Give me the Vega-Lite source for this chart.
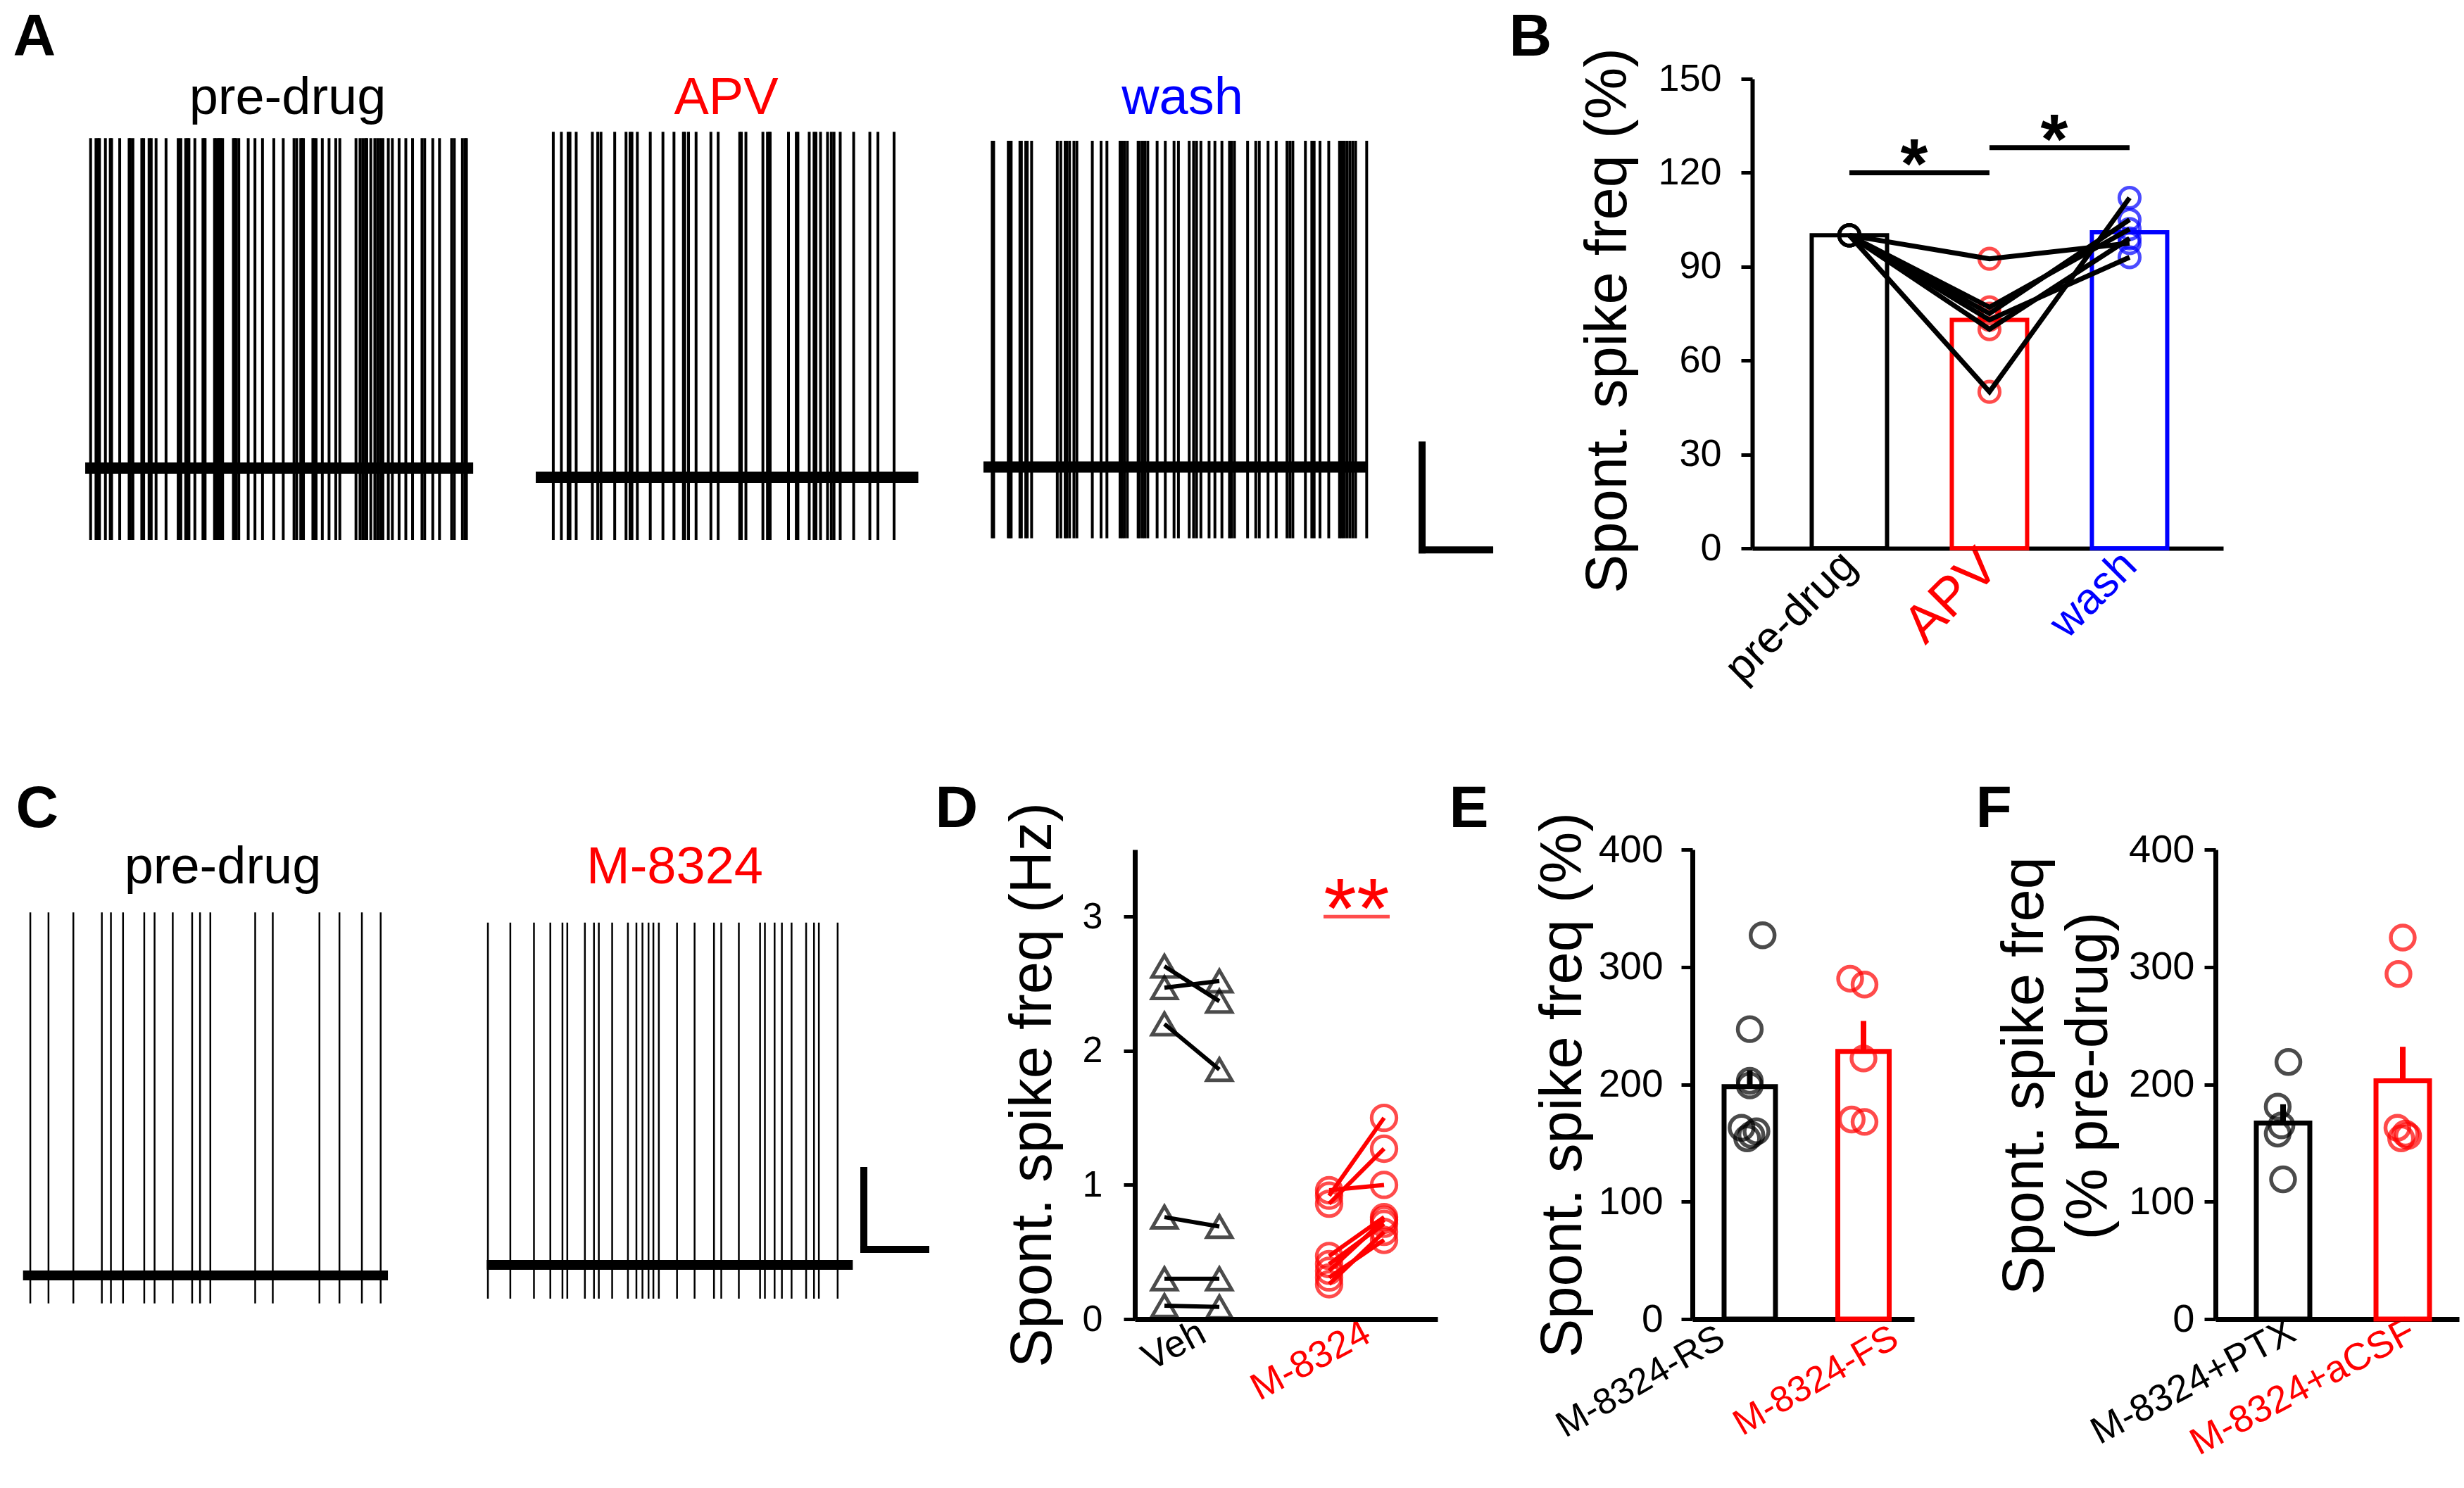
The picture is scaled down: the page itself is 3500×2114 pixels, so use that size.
{
"$schema": "https://vega.github.io/schema/vega-lite/v6.json",
"background": "white",
"padding": {"left": 0, "top": 11, "right": 10, "bottom": 10},
"spacing": 126,
"bounds": "full",
"resolve": {"scale": {"stroke": "independent", "shape": "independent"}},
"config": {"view": {"stroke": null}, "font": "Liberation Sans",
  "axis": {"grid": false, "domainColor": "#000000", "tickColor": "#000000", "labelColor": "#000000", "titleColor": "#000000", "labelFont": "Liberation Sans", "titleFont": "Liberation Sans", "titleFontWeight": "normal", "labelLimit": 0, "titleLimit": 0}},
"datasets": {
 "sweeps": [
  {"tr":"A1","start":55,"end":1495,"base":0,"peak":62.9,"trough":-13.7},
  {"tr":"A2","start":55,"end":1475,"base":-1.75,"peak":64.1,"trough":-13.7},
  {"tr":"A3","start":65,"end":1380,"base":0.2,"peak":62.4,"trough":-13.4},
  {"tr":"C1","start":0,"end":602,"base":0,"peak":92.1,"trough":-7.1},
  {"tr":"C2","start":0,"end":604,"base":2.7,"peak":89.5,"trough":-5.9}
 ],
 "scalebars": [
  {"tr":"A","t":0,"t2":0,"v":-15.6,"v2":4.4},
  {"tr":"A","t":0,"t2":231.6,"v":-15.6,"v2":-15.6},
  {"tr":"C2","t":622.2,"t2":622.2,"v":6.6,"v2":26.6},
  {"tr":"C2","t":622.2,"t2":724.4,"v":6.6,"v2":6.6}
 ],
 "spikes": [
  {"tr":"A1","t":75},{"tr":"A1","t":95},{"tr":"A1","t":103},{"tr":"A1","t":108},{"tr":"A1","t":130},{"tr":"A1","t":148},{"tr":"A1","t":153},{"tr":"A1","t":183},{"tr":"A1","t":218},{"tr":"A1","t":222},{"tr":"A1","t":232},{"tr":"A1","t":265},{"tr":"A1","t":272},{"tr":"A1","t":292},{"tr":"A1","t":300},{"tr":"A1","t":318},{"tr":"A1","t":355},{"tr":"A1","t":400},{"tr":"A1","t":410},{"tr":"A1","t":428},{"tr":"A1","t":435},{"tr":"A1","t":440},{"tr":"A1","t":462},{"tr":"A1","t":492},{"tr":"A1","t":497},{"tr":"A1","t":500},{"tr":"A1","t":535},{"tr":"A1","t":540},{"tr":"A1","t":548},{"tr":"A1","t":553},{"tr":"A1","t":558},{"tr":"A1","t":565},{"tr":"A1","t":605},{"tr":"A1","t":610},{"tr":"A1","t":615},{"tr":"A1","t":625},{"tr":"A1","t":660},{"tr":"A1","t":685},{"tr":"A1","t":713},{"tr":"A1","t":755},{"tr":"A1","t":790},{"tr":"A1","t":830},{"tr":"A1","t":840},{"tr":"A1","t":855},{"tr":"A1","t":860},{"tr":"A1","t":865},{"tr":"A1","t":900},{"tr":"A1","t":905},{"tr":"A1","t":912},{"tr":"A1","t":935},{"tr":"A1","t":960},{"tr":"A1","t":985},{"tr":"A1","t":1000},{"tr":"A1","t":1060},{"tr":"A1","t":1075},{"tr":"A1","t":1085},{"tr":"A1","t":1095},{"tr":"A1","t":1100},{"tr":"A1","t":1115},{"tr":"A1","t":1130},{"tr":"A1","t":1140},{"tr":"A1","t":1150},{"tr":"A1","t":1160},{"tr":"A1","t":1180},{"tr":"A1","t":1195},{"tr":"A1","t":1220},{"tr":"A1","t":1245},{"tr":"A1","t":1270},{"tr":"A1","t":1305},{"tr":"A1","t":1315},{"tr":"A1","t":1345},{"tr":"A1","t":1370},{"tr":"A1","t":1415},{"tr":"A1","t":1425},{"tr":"A1","t":1455},{"tr":"A1","t":1465},{"tr":"A1","t":1470},
  {"tr":"A2","t":120},{"tr":"A2","t":150},{"tr":"A2","t":175},{"tr":"A2","t":182},{"tr":"A2","t":205},{"tr":"A2","t":265},{"tr":"A2","t":285},{"tr":"A2","t":297},{"tr":"A2","t":348},{"tr":"A2","t":390},{"tr":"A2","t":405},{"tr":"A2","t":412},{"tr":"A2","t":432},{"tr":"A2","t":480},{"tr":"A2","t":527},{"tr":"A2","t":568},{"tr":"A2","t":603},{"tr":"A2","t":608},{"tr":"A2","t":622},{"tr":"A2","t":650},{"tr":"A2","t":705},{"tr":"A2","t":732},{"tr":"A2","t":812},{"tr":"A2","t":818},{"tr":"A2","t":835},{"tr":"A2","t":898},{"tr":"A2","t":915},{"tr":"A2","t":922},{"tr":"A2","t":925},{"tr":"A2","t":993},{"tr":"A2","t":1022},{"tr":"A2","t":1028},{"tr":"A2","t":1070},{"tr":"A2","t":1088},{"tr":"A2","t":1095},{"tr":"A2","t":1112},{"tr":"A2","t":1138},{"tr":"A2","t":1152},{"tr":"A2","t":1162},{"tr":"A2","t":1185},{"tr":"A2","t":1235},{"tr":"A2","t":1295},{"tr":"A2","t":1325},{"tr":"A2","t":1385},
  {"tr":"A3","t":95},{"tr":"A3","t":100},{"tr":"A3","t":150},{"tr":"A3","t":155},{"tr":"A3","t":160},{"tr":"A3","t":190},{"tr":"A3","t":195},{"tr":"A3","t":210},{"tr":"A3","t":215},{"tr":"A3","t":230},{"tr":"A3","t":318},{"tr":"A3","t":330},{"tr":"A3","t":345},{"tr":"A3","t":350},{"tr":"A3","t":360},{"tr":"A3","t":375},{"tr":"A3","t":385},{"tr":"A3","t":438},{"tr":"A3","t":468},{"tr":"A3","t":488},{"tr":"A3","t":533},{"tr":"A3","t":540},{"tr":"A3","t":548},{"tr":"A3","t":558},{"tr":"A3","t":595},{"tr":"A3","t":600},{"tr":"A3","t":610},{"tr":"A3","t":618},{"tr":"A3","t":628},{"tr":"A3","t":660},{"tr":"A3","t":688},{"tr":"A3","t":718},{"tr":"A3","t":733},{"tr":"A3","t":770},{"tr":"A3","t":785},{"tr":"A3","t":795},{"tr":"A3","t":810},{"tr":"A3","t":838},{"tr":"A3","t":858},{"tr":"A3","t":882},{"tr":"A3","t":908},{"tr":"A3","t":915},{"tr":"A3","t":925},{"tr":"A3","t":970},{"tr":"A3","t":998},{"tr":"A3","t":1010},{"tr":"A3","t":1040},{"tr":"A3","t":1068},{"tr":"A3","t":1105},{"tr":"A3","t":1115},{"tr":"A3","t":1125},{"tr":"A3","t":1168},{"tr":"A3","t":1190},{"tr":"A3","t":1198},{"tr":"A3","t":1218},{"tr":"A3","t":1248},{"tr":"A3","t":1285},{"tr":"A3","t":1292},{"tr":"A3","t":1300},{"tr":"A3","t":1310},{"tr":"A3","t":1320},{"tr":"A3","t":1330},{"tr":"A3","t":1340},{"tr":"A3","t":1378},
  {"tr":"C1","t":12},{"tr":"C1","t":42},{"tr":"C1","t":83},{"tr":"C1","t":130},{"tr":"C1","t":145},{"tr":"C1","t":165},{"tr":"C1","t":200},{"tr":"C1","t":217},{"tr":"C1","t":247},{"tr":"C1","t":279},{"tr":"C1","t":292},{"tr":"C1","t":309},{"tr":"C1","t":383},{"tr":"C1","t":412},{"tr":"C1","t":489},{"tr":"C1","t":522},{"tr":"C1","t":559},{"tr":"C1","t":590},
  {"tr":"C2","t":2},{"tr":"C2","t":39},{"tr":"C2","t":78},{"tr":"C2","t":105},{"tr":"C2","t":125},{"tr":"C2","t":133},{"tr":"C2","t":162},{"tr":"C2","t":177},{"tr":"C2","t":185},{"tr":"C2","t":207},{"tr":"C2","t":233},{"tr":"C2","t":247},{"tr":"C2","t":257},{"tr":"C2","t":267},{"tr":"C2","t":275},{"tr":"C2","t":284},{"tr":"C2","t":314},{"tr":"C2","t":343},{"tr":"C2","t":375},{"tr":"C2","t":387},{"tr":"C2","t":416},{"tr":"C2","t":451},{"tr":"C2","t":459},{"tr":"C2","t":475},{"tr":"C2","t":487},{"tr":"C2","t":503},{"tr":"C2","t":527},{"tr":"C2","t":540},{"tr":"C2","t":548},{"tr":"C2","t":579}
 ],
 "bbars": [{"cond":"pre-drug","mean":100},{"cond":"APV","mean":73},{"cond":"wash","mean":101}],
 "bcells": [
  {"cell":"c1","cond":"pre-drug","k":1,"val":100},{"cell":"c1","cond":"APV","k":2,"val":92.5},{"cell":"c1","cond":"wash","k":3,"val":97.5},
  {"cell":"c2","cond":"pre-drug","k":1,"val":100},{"cell":"c2","cond":"APV","k":2,"val":77},{"cell":"c2","cond":"wash","k":3,"val":102},
  {"cell":"c3","cond":"pre-drug","k":1,"val":100},{"cell":"c3","cond":"APV","k":2,"val":75},{"cell":"c3","cond":"wash","k":3,"val":105},
  {"cell":"c4","cond":"pre-drug","k":1,"val":100},{"cell":"c4","cond":"APV","k":2,"val":73},{"cell":"c4","cond":"wash","k":3,"val":93},
  {"cell":"c5","cond":"pre-drug","k":1,"val":100},{"cell":"c5","cond":"APV","k":2,"val":70},{"cell":"c5","cond":"wash","k":3,"val":99},
  {"cell":"c6","cond":"pre-drug","k":1,"val":100},{"cell":"c6","cond":"APV","k":2,"val":50},{"cell":"c6","cond":"wash","k":3,"val":112}
 ],
 "bsig": [{"from":"pre-drug","to":"APV","y":120,"label":"*"},{"from":"APV","to":"wash","y":128,"label":"*"}],
 "dcells": [
  {"cell":"v1","grp":"Veh","phase":"pre","k":1,"val":2.63},{"cell":"v1","grp":"Veh","phase":"post","k":2,"val":2.37},
  {"cell":"v2","grp":"Veh","phase":"pre","k":1,"val":2.47},{"cell":"v2","grp":"Veh","phase":"post","k":2,"val":2.52},
  {"cell":"v3","grp":"Veh","phase":"pre","k":1,"val":2.2},{"cell":"v3","grp":"Veh","phase":"post","k":2,"val":1.86},
  {"cell":"v4","grp":"Veh","phase":"pre","k":1,"val":0.76},{"cell":"v4","grp":"Veh","phase":"post","k":2,"val":0.69},
  {"cell":"v5","grp":"Veh","phase":"pre","k":1,"val":0.3},{"cell":"v5","grp":"Veh","phase":"post","k":2,"val":0.3},
  {"cell":"v6","grp":"Veh","phase":"pre","k":1,"val":0.1},{"cell":"v6","grp":"Veh","phase":"post","k":2,"val":0.09},
  {"cell":"m1","grp":"M-8324","phase":"pre","k":1,"val":0.92},{"cell":"m1","grp":"M-8324","phase":"post","k":2,"val":1.5},
  {"cell":"m2","grp":"M-8324","phase":"pre","k":1,"val":0.86},{"cell":"m2","grp":"M-8324","phase":"post","k":2,"val":1.27},
  {"cell":"m3","grp":"M-8324","phase":"pre","k":1,"val":0.96},{"cell":"m3","grp":"M-8324","phase":"post","k":2,"val":1.0},
  {"cell":"m4","grp":"M-8324","phase":"pre","k":1,"val":0.47},{"cell":"m4","grp":"M-8324","phase":"post","k":2,"val":0.76},
  {"cell":"m5","grp":"M-8324","phase":"pre","k":1,"val":0.41},{"cell":"m5","grp":"M-8324","phase":"post","k":2,"val":0.71},
  {"cell":"m6","grp":"M-8324","phase":"pre","k":1,"val":0.36},{"cell":"m6","grp":"M-8324","phase":"post","k":2,"val":0.74},
  {"cell":"m7","grp":"M-8324","phase":"pre","k":1,"val":0.31},{"cell":"m7","grp":"M-8324","phase":"post","k":2,"val":0.59},
  {"cell":"m8","grp":"M-8324","phase":"pre","k":1,"val":0.26},{"cell":"m8","grp":"M-8324","phase":"post","k":2,"val":0.65}
 ],
 "dsig": [{"grp":"M-8324","y":3.0,"label":"**"}],
 "esum": [{"g":"M-8324-RS","mean":198,"hi":212},{"g":"M-8324-FS","mean":228,"hi":254}],
 "ecells": [
  {"g":"M-8324-RS","val":327,"j":0.25},{"g":"M-8324-RS","val":247,"j":0},{"g":"M-8324-RS","val":203,"j":0},{"g":"M-8324-RS","val":199,"j":0},{"g":"M-8324-RS","val":163,"j":-0.16},{"g":"M-8324-RS","val":160,"j":0.13},{"g":"M-8324-RS","val":157,"j":0.03},{"g":"M-8324-RS","val":154,"j":-0.05},
  {"g":"M-8324-FS","val":290,"j":-0.26},{"g":"M-8324-FS","val":285,"j":0.02},{"g":"M-8324-FS","val":222,"j":0},{"g":"M-8324-FS","val":170,"j":-0.23},{"g":"M-8324-FS","val":168,"j":0.02}
 ],
 "fsum": [{"g":"M-8324+PTX","mean":167,"hi":183},{"g":"M-8324+aCSF","mean":203,"hi":232}],
 "fcells": [
  {"g":"M-8324+PTX","val":219,"j":0.1},{"g":"M-8324+PTX","val":181,"j":-0.1},{"g":"M-8324+PTX","val":165,"j":-0.03},{"g":"M-8324+PTX","val":158,"j":-0.1},{"g":"M-8324+PTX","val":119,"j":0},
  {"g":"M-8324+aCSF","val":325,"j":0},{"g":"M-8324+aCSF","val":294,"j":-0.08},{"g":"M-8324+aCSF","val":163,"j":-0.1},{"g":"M-8324+aCSF","val":158,"j":0.05},{"g":"M-8324+aCSF","val":156,"j":0.1},{"g":"M-8324+aCSF","val":154,"j":-0.03}
 ]
},
"vconcat": [
{"hconcat": [
 {"width": 715, "height": 667, "layer": [
  {"data": {"name": "sweeps"}, "transform": [{"filter": "datum.tr === 'A1'"}],
   "mark": {"type": "rule", "strokeWidth": 16, "color": "#000000"},
   "encoding": {
    "x": {"field": "start", "type": "quantitative", "scale": {"domain": [-261.3, 1607.0], "nice": false, "zero": false},
      "axis": {"orient": "top", "domain": false, "ticks": false, "labels": false, "title": "pre-drug", "titleX": 408, "titleY": 49, "titleAngle": 0, "titleAlign": "center", "titleBaseline": "alphabetic", "titleFontSize": 74}},
    "x2": {"field": "end"},
    "y": {"field": "base", "type": "quantitative", "scale": {"domain": [-15.3, 74.2], "nice": false, "zero": false},
      "axis": {"domain": false, "ticks": false, "labels": false, "title": "A", "titleX": 18, "titleY": -34, "titleAngle": 0, "titleAlign": "left", "titleBaseline": "alphabetic", "titleFontSize": 84, "titleFontWeight": "bold"}}}},
  {"data": {"name": "spikes"}, "transform": [{"filter": "datum.tr === 'A1'"}, {"lookup": "tr", "from": {"data": {"name": "sweeps"}, "key": "tr", "fields": ["peak", "trough"]}}],
   "mark": {"type": "rule", "strokeWidth": 4, "color": "#000000"},
   "encoding": {"x": {"field": "t", "type": "quantitative"}, "y": {"field": "trough", "type": "quantitative"}, "y2": {"field": "peak"}}}
 ]},
 {"width": 635, "height": 667, "layer": [
  {"data": {"name": "sweeps"}, "transform": [{"filter": "datum.tr === 'A2'"}],
   "mark": {"type": "rule", "strokeWidth": 16, "color": "#000000"},
   "encoding": {
    "x": {"field": "start", "type": "quantitative", "scale": {"domain": [-65.3, 1594.0], "nice": false, "zero": false},
      "axis": {"orient": "top", "domain": false, "ticks": false, "labels": false, "title": "APV", "titleColor": "#ff0000", "titleX": 316, "titleY": 49, "titleAngle": 0, "titleAlign": "center", "titleBaseline": "alphabetic", "titleFontSize": 74}},
    "x2": {"field": "end"},
    "y": {"field": "base", "type": "quantitative", "scale": {"domain": [-15.3, 74.2], "nice": false, "zero": false}, "axis": null}}},
  {"data": {"name": "spikes"}, "transform": [{"filter": "datum.tr === 'A2'"}, {"lookup": "tr", "from": {"data": {"name": "sweeps"}, "key": "tr", "fields": ["peak", "trough"]}}],
   "mark": {"type": "rule", "strokeWidth": 4, "color": "#000000"},
   "encoding": {"x": {"field": "t", "type": "quantitative"}, "y": {"field": "trough", "type": "quantitative", "axis": null}, "y2": {"field": "peak"}}}
 ]},
 {"width": 640, "height": 667, "layer": [
  {"data": {"name": "sweeps"}, "transform": [{"filter": "datum.tr === 'A3'"}],
   "mark": {"type": "rule", "strokeWidth": 16, "color": "#000000"},
   "encoding": {
    "x": {"field": "start", "type": "quantitative", "scale": {"domain": [-48.2, 1495.4], "nice": false, "zero": false},
      "axis": {"orient": "top", "domain": false, "ticks": false, "labels": false, "title": "wash", "titleColor": "#0000ff", "titleX": 329, "titleY": 49, "titleAngle": 0, "titleAlign": "center", "titleBaseline": "alphabetic", "titleFontSize": 74}},
    "x2": {"field": "end"},
    "y": {"field": "base", "type": "quantitative", "scale": {"domain": [-15.3, 74.2], "nice": false, "zero": false}, "axis": null}}},
  {"data": {"name": "spikes"}, "transform": [{"filter": "datum.tr === 'A3'"}, {"lookup": "tr", "from": {"data": {"name": "sweeps"}, "key": "tr", "fields": ["peak", "trough"]}}],
   "mark": {"type": "rule", "strokeWidth": 4, "color": "#000000"},
   "encoding": {"x": {"field": "t", "type": "quantitative"}, "y": {"field": "trough", "type": "quantitative", "axis": null}, "y2": {"field": "peak"}}}
 ]},
 {"width": 499, "height": 667,
  "data": {"name": "scalebars"}, "transform": [{"filter": "datum.tr === 'A'"}],
  "mark": {"type": "rule", "strokeWidth": 10, "strokeCap": "square", "color": "#000000"},
  "encoding": {
   "x": {"field": "t", "type": "quantitative", "scale": {"domain": [-72.4, 1131.2], "nice": false, "zero": false}, "axis": null},
   "x2": {"field": "t2"},
   "y": {"field": "v", "type": "quantitative", "scale": {"domain": [-15.3, 74.2], "nice": false, "zero": false}, "axis": null},
   "y2": {"field": "v2"}}},
 {"width": 669, "height": 667, "layer": [
  {"data": {"name": "bbars"},
   "mark": {"type": "bar", "fill": "white", "fillOpacity": 0, "strokeWidth": 6, "width": 107},
   "encoding": {
    "x": {"field": "cond", "type": "nominal", "sort": null, "scale": {"domain": ["pre-drug", "APV", "wash"], "paddingInner": 0.462, "paddingOuter": 0.412, "align": 0.515},
      "axis": {"domainWidth": 6, "ticks": false, "tickSize": 0, "labelAngle": -45, "labelAlign": "right", "labelBaseline": "middle", "labelFontSize": {"condition": {"test": "datum.value === 'APV'", "value": 76}, "value": 62}, "labelPadding": 14,
        "labelColor": {"condition": [{"test": "datum.value === 'APV'", "value": "#ff0000"}, {"test": "datum.value === 'wash'", "value": "#0000ff"}], "value": "#000000"},
        "title": "B", "titleX": -346, "titleY": -701, "titleAngle": 0, "titleAlign": "left", "titleBaseline": "alphabetic", "titleFontSize": 84, "titleFontWeight": "bold"}},
    "y": {"field": "mean", "type": "quantitative", "scale": {"domain": [0, 150], "nice": false},
      "axis": {"values": [0, 30, 60, 90, 120, 150], "domainWidth": 6, "tickSize": 16, "tickWidth": 5, "labelFontSize": 54, "labelPadding": 28, "title": "Spont. spike freq (%)", "titleFontSize": 83, "titleAngle": -90, "titleX": -180, "titleY": 343, "titleAlign": "center", "titleBaseline": "alphabetic"}},
    "stroke": {"field": "cond", "type": "nominal", "scale": {"domain": ["pre-drug", "APV", "wash"], "range": ["#000000", "#ff0000", "#0000ff"]}, "legend": null}}},
  {"data": {"name": "bcells"},
   "mark": {"type": "point", "shape": "circle", "filled": false, "size": 850, "strokeWidth": 5},
   "encoding": {"x": {"field": "cond", "type": "nominal"}, "y": {"field": "val", "type": "quantitative"}, "stroke": {"field": "cond", "type": "nominal", "legend": null}}},
  {"data": {"name": "bcells"},
   "mark": {"type": "line", "color": "#000000", "strokeWidth": 7},
   "encoding": {"x": {"field": "cond", "type": "nominal"}, "y": {"field": "val", "type": "quantitative"}, "detail": {"field": "cell", "type": "nominal"}, "order": {"field": "k", "type": "quantitative"}}},
  {"data": {"name": "bsig"},
   "mark": {"type": "rule", "color": "#000000", "strokeWidth": 7},
   "encoding": {"x": {"field": "from", "type": "nominal"}, "x2": {"field": "to"}, "y": {"field": "y", "type": "quantitative"}}},
  {"data": {"name": "bsig"},
   "mark": {"type": "text", "fontSize": 100, "fontWeight": "bold", "color": "#000000", "dx": 92, "dy": 22, "align": "center", "baseline": "alphabetic"},
   "encoding": {"x": {"field": "from", "type": "nominal"}, "y": {"field": "y", "type": "quantitative"}, "text": {"field": "label"}}}
 ]}
], "spacing": 0, "bounds": "flush", "resolve": {"scale": {"stroke": "independent"}}},
{"hconcat": [
 {"width": 640, "height": 667, "layer": [
  {"data": {"name": "sweeps"}, "transform": [{"filter": "datum.tr === 'C1'"}],
   "mark": {"type": "rule", "strokeWidth": 14, "color": "#000000"},
   "encoding": {
    "x": {"field": "start", "type": "quantitative", "scale": {"domain": [-38.0, 705.3], "nice": false, "zero": false},
      "axis": {"orient": "top", "domain": false, "ticks": false, "labels": false, "title": "pre-drug", "titleX": 316, "titleY": 47, "titleAngle": 0, "titleAlign": "center", "titleBaseline": "alphabetic", "titleFontSize": 74}},
    "x2": {"field": "end"},
    "y": {"field": "base", "type": "quantitative", "scale": {"domain": [-11.07, 108.04], "nice": false, "zero": false},
      "axis": {"domain": false, "ticks": false, "labels": false, "title": "C", "titleX": 22, "titleY": -33, "titleAngle": 0, "titleAlign": "left", "titleBaseline": "alphabetic", "titleFontSize": 84, "titleFontWeight": "bold"}}}},
  {"data": {"name": "spikes"}, "transform": [{"filter": "datum.tr === 'C1'"}, {"lookup": "tr", "from": {"data": {"name": "sweeps"}, "key": "tr", "fields": ["peak", "trough"]}}],
   "mark": {"type": "rule", "strokeWidth": 2.5, "color": "#000000"},
   "encoding": {"x": {"field": "t", "type": "quantitative"}, "y": {"field": "trough", "type": "quantitative"}, "y2": {"field": "peak"}}}
 ]},
 {"width": 972, "height": 667, "layer": [
  {"data": {"name": "sweeps"}, "transform": [{"filter": "datum.tr === 'C2'"}],
   "mark": {"type": "rule", "strokeWidth": 14, "color": "#000000"},
   "encoding": {
    "x": {"field": "start", "type": "quantitative", "scale": {"domain": [-59.6, 1069.3], "nice": false, "zero": false},
      "axis": {"orient": "top", "domain": false, "ticks": false, "labels": false, "title": "M-8324", "titleColor": "#ff0000", "titleX": 318, "titleY": 47, "titleAngle": 0, "titleAlign": "center", "titleBaseline": "alphabetic", "titleFontSize": 74}},
    "x2": {"field": "end"},
    "y": {"field": "base", "type": "quantitative", "scale": {"domain": [-11.07, 108.04], "nice": false, "zero": false}, "axis": null}}},
  {"data": {"name": "spikes"}, "transform": [{"filter": "datum.tr === 'C2'"}, {"lookup": "tr", "from": {"data": {"name": "sweeps"}, "key": "tr", "fields": ["peak", "trough"]}}],
   "mark": {"type": "rule", "strokeWidth": 2.5, "color": "#000000"},
   "encoding": {"x": {"field": "t", "type": "quantitative"}, "y": {"field": "trough", "type": "quantitative", "axis": null}, "y2": {"field": "peak"}}},
  {"data": {"name": "scalebars"}, "transform": [{"filter": "datum.tr === 'C2'"}],
   "mark": {"type": "rule", "strokeWidth": 10, "strokeCap": "square", "color": "#000000"},
   "encoding": {"x": {"field": "t", "type": "quantitative"}, "x2": {"field": "t2"}, "y": {"field": "v", "type": "quantitative", "axis": null}, "y2": {"field": "v2"}}}
 ]},
 {"width": 792, "height": 667, "layer": [
  {"data": {"name": "dcells"},
   "mark": {"type": "line", "strokeWidth": 6},
   "encoding": {
    "x": {"field": "grp", "type": "nominal", "sort": null, "scale": {"domain": ["Veh", "M-8324"], "range": [0, 430], "paddingInner": 0.333, "paddingOuter": 0.0855, "align": 0.075},
      "axis": {"domainWidth": 7, "ticks": false, "tickSize": 0, "labelAngle": -28, "labelAlign": "right", "labelBaseline": "middle", "labelFontSize": 54, "labelPadding": 16, "labelOffset": 16,
        "labelColor": {"condition": {"test": "datum.value === 'M-8324'", "value": "#ff0000"}, "value": "#000000"},
        "title": "D", "titleX": -284, "titleY": -700, "titleAngle": 0, "titleAlign": "left", "titleBaseline": "alphabetic", "titleFontSize": 84, "titleFontWeight": "bold"}},
    "xOffset": {"field": "phase", "type": "nominal", "sort": null, "scale": {"domain": ["pre", "post"]}},
    "y": {"field": "val", "type": "quantitative", "scale": {"domain": [0, 3.5], "nice": false},
      "axis": {"values": [0, 1, 2, 3], "format": "d", "domainWidth": 7, "tickSize": 16, "tickWidth": 5, "labelFontSize": 52, "labelPadding": 30, "title": "Spont. spike freq (Hz)", "titleFontSize": 83, "titleAngle": -90, "titleX": -120, "titleY": 334, "titleAlign": "center", "titleBaseline": "alphabetic"}},
    "stroke": {"field": "grp", "type": "nominal", "scale": {"domain": ["Veh", "M-8324"], "range": ["#000000", "#ff0000"]}, "legend": null},
    "detail": {"field": "cell", "type": "nominal"},
    "order": {"field": "k", "type": "quantitative"}}},
  {"data": {"name": "dcells"},
   "mark": {"type": "point", "filled": false, "size": 1250, "strokeWidth": 5},
   "encoding": {"x": {"field": "grp", "type": "nominal"}, "xOffset": {"field": "phase", "type": "nominal"}, "y": {"field": "val", "type": "quantitative"},
     "stroke": {"field": "grp", "type": "nominal", "legend": null},
     "shape": {"field": "grp", "type": "nominal", "scale": {"domain": ["Veh", "M-8324"], "range": ["triangle-up", "circle"]}, "legend": null}}},
  {"data": {"name": "dsig"},
   "mark": {"type": "tick", "orient": "horizontal", "size": 94, "thickness": 5, "color": "#ff0000"},
   "encoding": {"x": {"field": "grp", "type": "nominal"}, "y": {"field": "y", "type": "quantitative"}}},
  {"data": {"name": "dsig"},
   "mark": {"type": "text", "fontSize": 120, "color": "#ff0000", "dy": 30, "align": "center", "baseline": "alphabetic"},
   "encoding": {"x": {"field": "grp", "type": "nominal"}, "y": {"field": "y", "type": "quantitative"}, "text": {"field": "label"}}}
 ]},
 {"width": 743, "height": 667, "layer": [
  {"data": {"name": "esum"},
   "mark": {"type": "bar", "fill": "white", "fillOpacity": 0, "strokeWidth": 7, "width": 73},
   "encoding": {
    "x": {"field": "g", "type": "nominal", "sort": null, "scale": {"domain": ["M-8324-RS", "M-8324-FS"], "range": [0, 315], "paddingInner": 0.548, "paddingOuter": 0.249, "align": 0.559},
      "axis": {"domainWidth": 7, "ticks": false, "tickSize": 0, "labelAngle": -30, "labelAlign": "right", "labelBaseline": "middle", "labelFontSize": 52, "labelPadding": 22,
        "labelOffset": {"condition": {"test": "datum.value === 'M-8324-RS'", "value": -40}, "value": 45},
        "labelColor": {"condition": {"test": "datum.value === 'M-8324-FS'", "value": "#ff0000"}, "value": "#000000"},
        "title": "E", "titleX": -346, "titleY": -700, "titleAngle": 0, "titleAlign": "left", "titleBaseline": "alphabetic", "titleFontSize": 84, "titleFontWeight": "bold"}},
    "y": {"field": "mean", "type": "quantitative", "scale": {"domain": [0, 400], "nice": false},
      "axis": {"values": [0, 100, 200, 300, 400], "domainWidth": 7, "tickSize": 16, "tickWidth": 5, "labelFontSize": 55, "labelPadding": 26, "title": "Spont. spike freq (%)", "titleFontSize": 83, "titleAngle": -90, "titleX": -159, "titleY": 334, "titleAlign": "center", "titleBaseline": "alphabetic"}},
    "stroke": {"field": "g", "type": "nominal", "scale": {"domain": ["M-8324-RS", "M-8324-FS"], "range": ["#000000", "#ff0000"]}, "legend": null}}},
  {"data": {"name": "esum"},
   "mark": {"type": "rule", "strokeWidth": 8},
   "encoding": {"x": {"field": "g", "type": "nominal"}, "y": {"field": "mean", "type": "quantitative"}, "y2": {"field": "hi"}, "stroke": {"field": "g", "type": "nominal", "legend": null}}},
  {"data": {"name": "ecells"},
   "mark": {"type": "point", "shape": "circle", "filled": false, "size": 1150, "strokeWidth": 5.5},
   "encoding": {"x": {"field": "g", "type": "nominal"}, "xOffset": {"field": "j", "type": "quantitative", "scale": {"domain": [-0.5, 0.5], "nice": false, "zero": false}}, "y": {"field": "val", "type": "quantitative"}, "stroke": {"field": "g", "type": "nominal", "legend": null}}}
 ]},
 {"width": 346, "height": 667, "layer": [
  {"data": {"name": "fsum"},
   "mark": {"type": "bar", "fill": "white", "fillOpacity": 0, "strokeWidth": 7, "width": 76},
   "encoding": {
    "x": {"field": "g", "type": "nominal", "sort": null, "scale": {"domain": ["M-8324+PTX", "M-8324+aCSF"], "paddingInner": 0.553, "paddingOuter": 0.294, "align": 0.58},
      "axis": {"domainWidth": 7, "ticks": false, "tickSize": 0, "labelAngle": -28, "labelAlign": "right", "labelBaseline": "middle", "labelFontSize": 54, "labelPadding": 14, "labelOffset": 14,
        "labelColor": {"condition": {"test": "datum.value === 'M-8324+aCSF'", "value": "#ff0000"}, "value": "#000000"},
        "title": "F", "titleX": -341, "titleY": -700, "titleAngle": 0, "titleAlign": "left", "titleBaseline": "alphabetic", "titleFontSize": 84, "titleFontWeight": "bold"}},
    "y": {"field": "mean", "type": "quantitative", "scale": {"domain": [0, 400], "nice": false},
      "axis": {"values": [0, 100, 200, 300, 400], "domainWidth": 7, "tickSize": 16, "tickWidth": 5, "labelFontSize": 56, "labelPadding": 14, "title": ["Spont. spike freq", "(% pre-drug)"], "titleFontSize": 83, "titleLineHeight": 91, "titleAngle": -90, "titleX": -246, "titleY": 321, "titleAlign": "center", "titleBaseline": "alphabetic"}},
    "stroke": {"field": "g", "type": "nominal", "scale": {"domain": ["M-8324+PTX", "M-8324+aCSF"], "range": ["#000000", "#ff0000"]}, "legend": null}}},
  {"data": {"name": "fsum"},
   "mark": {"type": "rule", "strokeWidth": 8},
   "encoding": {"x": {"field": "g", "type": "nominal"}, "y": {"field": "mean", "type": "quantitative"}, "y2": {"field": "hi"}, "stroke": {"field": "g", "type": "nominal", "legend": null}}},
  {"data": {"name": "fcells"},
   "mark": {"type": "point", "shape": "circle", "filled": false, "size": 1150, "strokeWidth": 5.5},
   "encoding": {"x": {"field": "g", "type": "nominal"}, "xOffset": {"field": "j", "type": "quantitative", "scale": {"domain": [-0.5, 0.5], "nice": false, "zero": false}}, "y": {"field": "val", "type": "quantitative"}, "stroke": {"field": "g", "type": "nominal", "legend": null}}}
 ]}
], "spacing": 0, "bounds": "flush", "resolve": {"scale": {"stroke": "independent", "shape": "independent"}}}
]
}
